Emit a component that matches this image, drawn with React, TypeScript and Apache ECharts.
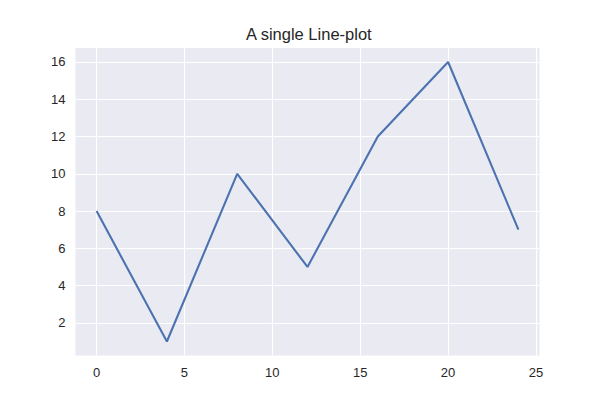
import React, { useEffect, useRef } from "react";
import * as echarts from "echarts";

const xValues = [0, 4, 8, 12, 16, 20, 24];
const yValues = [8, 1, 10, 5, 12, 16, 7];
const xTicks = [0, 5, 10, 15, 20, 25];
const yTicks = [2, 4, 6, 8, 10, 12, 14, 16];

export default function App() {
  const ref = useRef<HTMLDivElement>(null);
  useEffect(() => {
    const chart = echarts.init(ref.current!, null, { renderer: "svg" });
    const font = "'Liberation Sans', Arial, sans-serif";
    chart.setOption({
      animation: false,
      backgroundColor: "#ffffff",
      title: {
        text: "A single Line-plot",
        left: 241,
        top: 20,
        textStyle: { fontFamily: font, fontSize: 16.5, fontWeight: "normal", color: "#262626" },
      },
      grid: {
        left: 75.5,
        right: 60.5,
        top: 48,
        bottom: 44.5,
        show: true,
        backgroundColor: "#EAEAF2",
        borderWidth: 0,
        containLabel: false,
      },
      xAxis: {
        type: "value",
        min: -1.2,
        max: 25.2,
        axisLine: { show: false },
        axisTick: { show: true, length: 0, customValues: xTicks, lineStyle: { color: "rgba(0,0,0,0)" } },
        axisLabel: {
          customValues: xTicks,
          margin: 10,
          fontFamily: font,
          fontSize: 13,
          color: "#262626",
        },
        splitLine: { show: true, lineStyle: { color: "#ffffff", width: 1.1 } },
      },
      yAxis: {
        type: "value",
        min: 0.25,
        max: 16.75,
        axisLine: { show: false },
        axisTick: { show: true, length: 0, customValues: yTicks, lineStyle: { color: "rgba(0,0,0,0)" } },
        axisLabel: {
          customValues: yTicks,
          margin: 10,
          fontFamily: font,
          fontSize: 13,
          color: "#262626",
        },
        splitLine: { show: true, lineStyle: { color: "#ffffff", width: 1.1 } },
      },
      series: [
        {
          type: "line",
          data: xValues.map((x, i) => [x, yValues[i]]),
          showSymbol: false,
          lineStyle: { color: "#4C72B0", width: 2.1 },
          itemStyle: { color: "#4C72B0" },
        },
      ],
    });
    return () => chart.dispose();
  }, []);
  return (
    <div
      ref={ref}
      style={{ position: "fixed", left: 0, top: 0, width: 600, height: 400 }}
    />
  );
}
